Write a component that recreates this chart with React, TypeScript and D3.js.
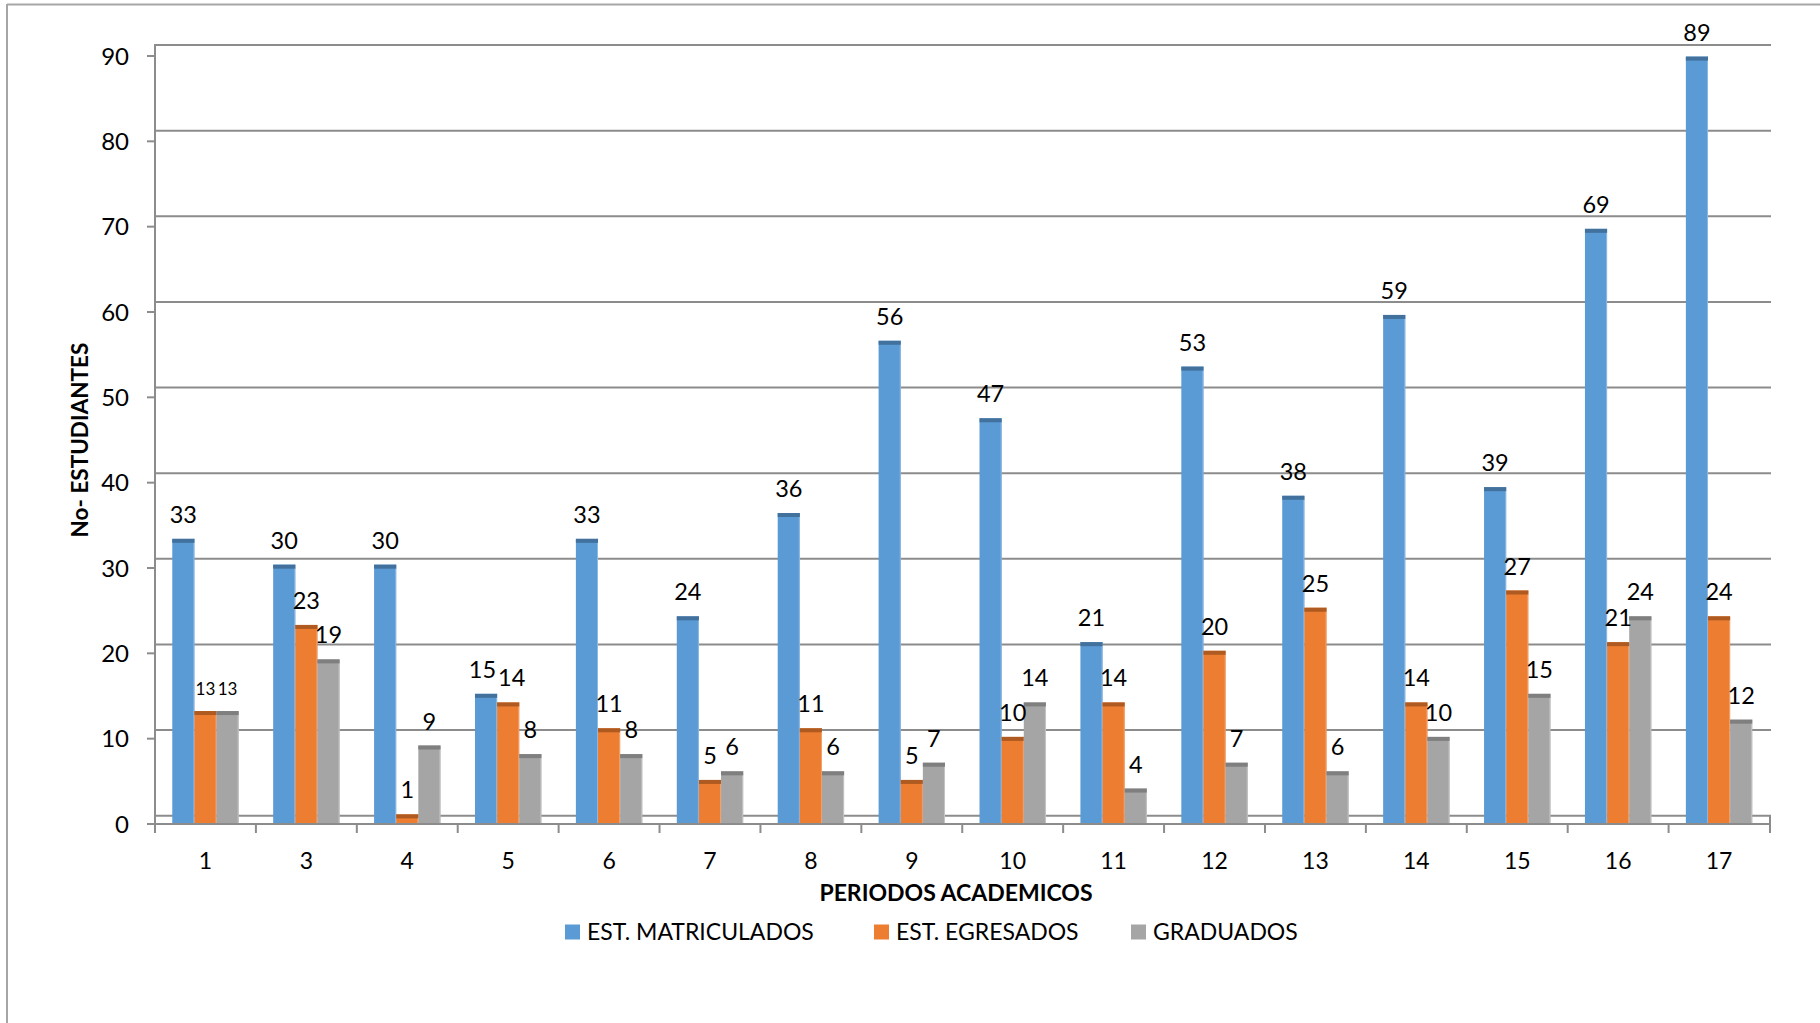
import React from "react";
import * as d3 from "d3";

const categories = ["1", "3", "4", "5", "6", "7", "8", "9", "10", "11", "12", "13", "14", "15", "16", "17"];
const matriculados = [33, 30, 30, 15, 33, 24, 36, 56, 47, 21, 53, 38, 59, 39, 69, 89];
const egresados = [13, 23, 1, 14, 11, 5, 11, 5, 10, 14, 20, 25, 14, 27, 21, 24];
const graduados = [13, 19, 9, 8, 8, 6, 6, 7, 14, 4, 7, 6, 10, 15, 24, 12];
const yTicks = [0, 10, 20, 30, 40, 50, 60, 70, 80, 90];
const seriesNames = ["EST. MATRICULADOS", "EST. EGRESADOS", "GRADUADOS"];

const W = 1820;
const H = 1023;
const FONT = "Lato, 'Open Sans', sans-serif";

const colors = ["#5B9BD5", "#ED7D31", "#A5A5A5"];
const caps = ["#41719C", "#AE5A21", "#7F7F7F"];
const edges = ["#8DB8E3", "#F3A26D", "#C4C4C4"];

export default function App() {
  const series = [matriculados, egresados, graduados];
  const x = d3.scaleBand<string>().domain(categories).range([155, 1769.5]).paddingInner(0).paddingOuter(0);
  const inner = d3.scaleBand<number>().domain([0, 1, 2]).range([0, x.bandwidth()]).paddingOuter(0.78).paddingInner(0);
  // back wall (gridlines), front plane (ticks), bars
  const yBack = d3.scaleLinear().domain([0, 90]).range([815.7, 45]);
  const yFront = d3.scaleLinear().domain([0, 90]).range([824, 56]);
  const yBar = d3.scaleLinear().domain([0, 90]).range([823, 48]);

  const bw = inner.bandwidth();
  const legendX = [565, 874, 1131];

  const labelSize = (i: number, s: number) => (i === 0 && s > 0 ? 17 : 23.5);
  const textW = (v: number, size: number) => String(v).length * size * 0.58;

  // label positions with a small nudge when neighbouring labels collide
  const labels: { x: number; y: number; v: number; size: number; key: string }[] = [];
  categories.forEach((c, i) => {
    const row = series.map((vals, s) => ({
      x: x(c)! + inner(s)! + bw / 2,
      y: yBar(vals[i]) - 16,
      v: vals[i],
      size: labelSize(i, s),
      key: `l${s}-${i}`,
    }));
    for (let s = 0; s < row.length - 1; s++) {
      const a = row[s];
      const b = row[s + 1];
      const overlapX = (textW(a.v, a.size) + textW(b.v, b.size)) / 2 - (b.x - a.x);
      if (overlapX > 0 && Math.abs(a.y - b.y) < 17) {
        a.x -= overlapX / 2 + 1;
        b.x += overlapX / 2 + 1;
      }
    }
    labels.push(...row);
  });

  return (
    <div style={{ position: "absolute", left: 0, top: 0 }}>
      <svg width={W} height={H} style={{ display: "block", background: "#fff" }}>
        {/* outer border */}
        <line x1={7} y1={4.5} x2={W} y2={4.5} stroke="#A6A6A6" strokeWidth={2} />
        <line x1={7} y1={4} x2={7} y2={H} stroke="#A6A6A6" strokeWidth={2} />

        {/* back wall gridlines */}
        {yTicks.map((t) => (
          <line key={"g" + t} x1={155} x2={1771} y1={yBack(t)} y2={yBack(t)} stroke="#8C8C8C" strokeWidth={2} />
        ))}
        {/* left wall */}
        <line x1={155} x2={155} y1={44} y2={833} stroke="#8C8C8C" strokeWidth={2} />
        {/* floor right edge */}
        <line x1={1770} x2={1770} y1={815} y2={833} stroke="#8C8C8C" strokeWidth={2} />
        {/* front floor line */}
        <line x1={147} x2={1771} y1={824} y2={824} stroke="#8C8C8C" strokeWidth={2} />

        {/* y ticks and labels */}
        {yTicks.map((t) => (
          <g key={"t" + t}>
            <line x1={147} x2={155} y1={yFront(t)} y2={yFront(t)} stroke="#8C8C8C" strokeWidth={2} />
            <text x={129} y={yFront(t)} dy="0.36em" textAnchor="end" fontFamily={FONT} fontSize={24} fill="#000">
              {t}
            </text>
          </g>
        ))}

        {/* x ticks */}
        {categories.map((c) => (
          <line key={"xt" + c} x1={x(c)!} x2={x(c)!} y1={824} y2={833} stroke="#8C8C8C" strokeWidth={2} />
        ))}
        {categories.map((c) => (
          <text key={"xl" + c} x={x(c)! + x.bandwidth() / 2} y={868.5} textAnchor="middle" fontFamily={FONT} fontSize={23} fill="#000">
            {c}
          </text>
        ))}

        {/* bars */}
        {series.map((vals, s) =>
          vals.map((v, i) => {
            const bx = x(categories[i])! + inner(s)!;
            const top = yBar(v);
            const h = yBar(0) - top;
            return (
              <g key={"b" + s + "-" + i}>
                <rect x={bx} y={top} width={bw} height={h} fill={colors[s]} />
                <line x1={bx + bw - 0.5} x2={bx + bw - 0.5} y1={top} y2={top + h} stroke={edges[s]} strokeWidth={1} />
                <rect x={bx} y={top} width={bw} height={Math.min(4, h)} fill={caps[s]} />
              </g>
            );
          })
        )}

        {/* data labels */}
        {labels.map((l) => (
          <text key={l.key} x={l.x} y={l.y} textAnchor="middle" fontFamily={FONT} fontSize={l.size} fill="#000">
            {l.v}
          </text>
        ))}

        {/* axis titles */}
        <text x={956} y={901} textAnchor="middle" fontFamily={FONT} fontWeight="bold" fontSize={23} fill="#000">
          PERIODOS ACADEMICOS
        </text>
        <text
          transform={`translate(88, ${440}) rotate(-90)`}
          textAnchor="middle"
          fontFamily={FONT}
          fontWeight="bold"
          fontSize={22.5}
          fill="#000"
        >
          No- ESTUDIANTES
        </text>

        {/* legend */}
        {seriesNames.map((n, s) => (
          <g key={"lg" + s}>
            <rect x={legendX[s]} y={924.5} width={15} height={15} fill={colors[s]} />
            <text x={legendX[s] + 22} y={939.5} fontFamily={FONT} fontSize={23} fill="#000">
              {n}
            </text>
          </g>
        ))}
      </svg>
    </div>
  );
}
